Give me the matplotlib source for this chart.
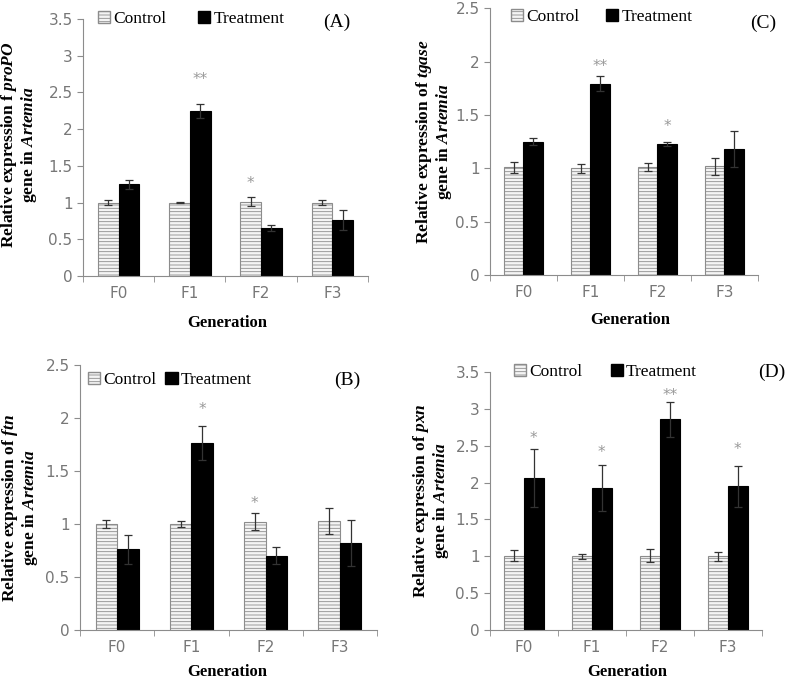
import numpy as np
import matplotlib
matplotlib.use("Agg")
import matplotlib.pyplot as plt
from matplotlib.patches import Patch

plt.rcParams['hatch.color'] = '#8a8a8a'
plt.rcParams['hatch.linewidth'] = 0.6
plt.rcParams['mathtext.fontset'] = 'custom'
plt.rcParams['mathtext.it'] = 'Liberation Serif:italic:bold'
plt.rcParams['mathtext.bf'] = 'Liberation Serif:bold'

generations = ["F0", "F1", "F2", "F3"]

# panel A - proPO
ctrl_a = [1.0, 1.0, 1.01, 1.0]
ctrl_a_err = [0.04, 0.01, 0.06, 0.03]
trt_a = [1.25, 2.25, 0.65, 0.76]
trt_a_err = [0.06, 0.10, 0.04, 0.14]
# (group index, bar: 0 control / 1 treatment, label, height)
stars_a = [(1, 1, "**", 2.74), (2, 0, "*", 1.31)]

# panel C - tgase
ctrl_c = [1.01, 1.0, 1.01, 1.02]
ctrl_c_err = [0.05, 0.04, 0.04, 0.08]
trt_c = [1.25, 1.79, 1.23, 1.18]
trt_c_err = [0.03, 0.07, 0.02, 0.17]
stars_c = [(1, 1, "**", 1.99), (2, 1, "*", 1.43)]

# panel B - ftn
ctrl_b = [1.0, 1.0, 1.02, 1.03]
ctrl_b_err = [0.04, 0.03, 0.08, 0.12]
trt_b = [0.76, 1.76, 0.70, 0.82]
trt_b_err = [0.14, 0.16, 0.08, 0.22]
stars_b = [(1, 1, "*", 2.12), (2, 0, "*", 1.23)]

# panel D - pxn
ctrl_d = [1.01, 1.0, 1.01, 1.0]
ctrl_d_err = [0.07, 0.03, 0.09, 0.06]
trt_d = [2.06, 1.93, 2.86, 1.95]
trt_d_err = [0.39, 0.31, 0.24, 0.28]
stars_d = [(0, 1, "*", 2.66), (1, 1, "*", 2.47), (2, 1, "**", 3.24),
           (3, 1, "*", 2.51)]

gray = '#8c8c8c'
serif = 'Liberation Serif'
W, H = 787, 683


def px(x, y):
    return x / W, 1 - y / H


def panel(rect, ctrl, ctrl_err, trt, trt_err, stars, ymax, gene, prefix,
          tag, tag_xy, leg_xy, leg_gap, ylab_xy, xlab_xy):
    ax = fig.add_axes(rect)
    x = np.arange(len(generations))
    w = 0.29
    ax.bar(x - w / 2, ctrl, w, color='#f4f4f4', edgecolor=gray,
           hatch='-----', linewidth=0.8, zorder=2)
    ax.bar(x + w / 2, trt, w, color='black', edgecolor='black',
           linewidth=0.8, zorder=2)
    ax.errorbar(x - w / 2, ctrl, yerr=ctrl_err, fmt='none', ecolor='#333333',
                elinewidth=0.9, capsize=3, capthick=0.9, zorder=3)
    ax.errorbar(x + w / 2, trt, yerr=trt_err, fmt='none', ecolor='#333333',
                elinewidth=0.9, capsize=3, capthick=0.9, zorder=3)
    for i, b, lab, h in stars:
        xs = x[i] - w / 2 if b == 0 else x[i] + w / 2
        ax.annotate(lab, (xs, h), xytext=(0, -3), textcoords='offset points',
                    ha='center', va='center', color='#999999', fontsize=11)

    ax.set_xlim(-0.5, 3.5)
    ax.set_ylim(0, ymax)
    ticks = np.arange(0, ymax + 0.01, 0.5)
    ax.set_yticks(ticks)
    ax.set_yticklabels(["%g" % v for v in ticks])
    ax.set_xticks(x)
    ax.set_xticklabels(generations)
    ax.set_xticks(np.arange(-0.5, 3.6, 1), minor=True)
    ax.tick_params(axis='x', which='major', length=0, pad=7)
    ax.tick_params(axis='x', which='minor', length=4, color=gray)
    ax.tick_params(axis='y', length=4, color=gray)
    ax.tick_params(labelcolor='#777777', labelsize=11)
    for s in ['top', 'right']:
        ax.spines[s].set_visible(False)
    for s in ['left', 'bottom']:
        ax.spines[s].set_color(gray)

    fig.text(*px(*xlab_xy), "Generation", fontfamily=serif, fontweight='bold',
             fontsize=12, ha='center', va='center')
    fig.text(*px(*ylab_xy),
             "Relative expression %s$\\mathbf{\\it{%s}}$\ngene in $\\it{Artemia}$"
             % (prefix, gene), fontfamily=serif, fontweight='bold',
             fontsize=12.5, rotation=90, ha='center', va='center',
             multialignment='center', linespacing=1.0)

    handles = [Patch(facecolor='#f4f4f4', edgecolor=gray, hatch='-----'),
               Patch(facecolor='black', edgecolor='black')]
    ax.legend(handles, ["Control", "Treatment"], ncol=2, frameon=False,
              loc='center left', bbox_to_anchor=px(*leg_xy),
              bbox_transform=fig.transFigure,
              prop={'family': serif, 'size': 12.5}, handlelength=0.7,
              handleheight=0.7, handletextpad=0.2, columnspacing=leg_gap,
              borderpad=0, borderaxespad=0)
    fig.text(*px(*tag_xy), tag, fontfamily=serif, fontsize=14,
             ha='center', va='center')
    return ax


fig = plt.figure(figsize=(7.87, 6.83), dpi=100)

panel([0.1055, 0.596, 0.362, 0.376], ctrl_a, ctrl_a_err, trt_a, trt_a_err,
      stars_a, 3.5, "proPO", "f ", "(A)", (337, 22), (98, 19), 1.8,
      (19, 145), (227, 323))
panel([0.6226, 0.5974, 0.3404, 0.3906], ctrl_c, ctrl_c_err, trt_c, trt_c_err,
      stars_c, 2.5, "tgase", "of ", "(C)", (763, 23), (511, 17), 1.5,
      (434, 142), (630, 320))
panel([0.1017, 0.0776, 0.3773, 0.388], ctrl_b, ctrl_b_err, trt_b, trt_b_err,
      stars_b, 2.5, "ftn", "of ", "(B)", (347, 380), (88, 380), 0.5,
      (20, 508), (227, 672))
panel([0.6226, 0.0776, 0.3454, 0.3777], ctrl_d, ctrl_d_err, trt_d, trt_d_err,
      stars_d, 3.5, "pxn", "of ", "(D)", (772, 372), (514, 372), 1.6,
      (431, 501), (627, 672))

fig.savefig("out.png", dpi=100)
